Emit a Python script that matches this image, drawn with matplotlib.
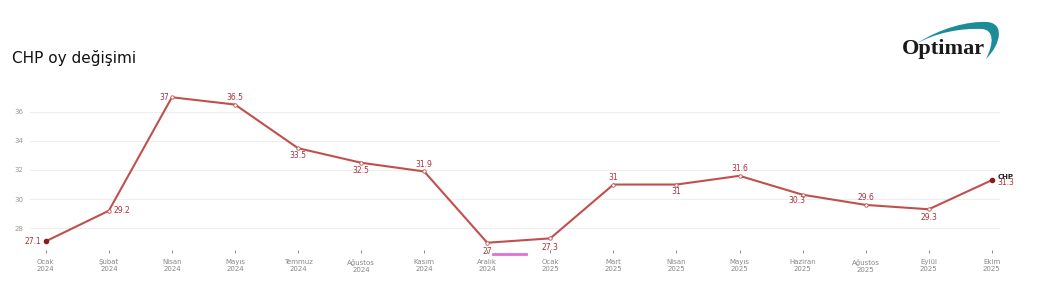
import numpy as np
import matplotlib.pyplot as plt
from matplotlib.path import Path
from matplotlib.patches import PathPatch

months = ["Ocak\n2024", "Şubat\n2024", "Nisan\n2024", "Mayıs\n2024", "Temmuz\n2024",
          "Ağustos\n2024", "Kasım\n2024", "Aralık\n2024", "Ocak\n2025", "Mart\n2025",
          "Nisan\n2025", "Mayıs\n2025", "Haziran\n2025", "Ağustos\n2025", "Eylül\n2025",
          "Ekim\n2025"]
chp = [27.1, 29.2, 37, 36.5, 33.5, 32.5, 31.9, 27, 27.3, 31, 31, 31.6, 30.3, 29.6, 29.3, 31.3]
yticks = [28, 30, 32, 34, 36]

# label offsets in points (dx, dy, ha, va)
offs = [(-3, 0, "right", "center"), (3, 0, "left", "center"), (-2, 0, "right", "center"),
        (0, 2, "center", "bottom"), (0, -2, "center", "top"), (0, -2, "center", "top"),
        (0, 2, "center", "bottom"), (0, -3, "center", "top"), (0, -3, "center", "top"),
        (0, 2, "center", "bottom"), (0, -2, "center", "top"), (0, 2, "center", "bottom"),
        (-4, -1, "center", "top"), (0, 2, "center", "bottom"), (0, -3, "center", "top"),
        (4, -2, "left", "center")]

line_c = "#c0504d"
lab_c = "#a8323a"

fig = plt.figure(figsize=(10.49, 2.89), dpi=100)
ax = fig.add_axes([30/1049, 1 - 250/289, 970/1049, 160/289])
x = np.arange(len(chp))
ax.plot(x, chp, color=line_c, lw=1.5, zorder=3)
ax.plot(x[1:-1], chp[1:-1], "o", ms=2.5, mfc="white", mec=line_c, mew=0.6, zorder=4)
ax.plot([x[0], x[-1]], [chp[0], chp[-1]], "o", ms=3, color="#8b1a1a", zorder=5)

for i, v in enumerate(chp):
    dx, dy, ha, va = offs[i]
    ax.annotate(f"{v:g}", (i, v), xytext=(dx, dy), textcoords="offset points",
                ha=ha, va=va, fontsize=5.5, color=lab_c, zorder=6)
ax.annotate("CHP", (x[-1], chp[-1]), xytext=(4, 2), textcoords="offset points",
            ha="left", va="center", fontsize=5, fontweight="bold", color="#222222")

ax.set_xlim(-0.25, 15.13)
ax.set_ylim(26.5, 37.5)
ax.set_yticks(yticks)
ax.set_xticks(x)
ax.set_xticklabels(months)
ax.tick_params(axis="y", length=0, pad=5, labelsize=5, labelcolor="#999999")
ax.tick_params(axis="x", length=2.5, width=0.6, color="#777777", pad=4,
               labelsize=5, labelcolor="#888888")
ax.grid(axis="y", color="#eeeeee", lw=0.8)
for s in ax.spines.values():
    s.set_visible(False)

fig.text(12/1049, 1 - 58/289, "CHP oy değişimi", fontsize=11, color="#111111", va="center")

# magenta stroke under Aralık/Ocak
fig.add_artist(plt.Line2D([493/1049, 526/1049], [1 - 254/289, 1 - 254/289],
                          color="#e070d8", lw=2))

# Optimar logo
lax = fig.add_axes([890/1049, 1 - 70/289, 120/1049, 55/289])
lax.set_xlim(0, 120)
lax.set_ylim(55, 0)
lax.axis("off")
verts = [(26, 29), (50, 13), (78, 6), (97, 7), (114, 8), (112, 28), (96, 44),
         (104, 28), (104, 15), (92, 14), (70, 13), (45, 18), (26, 29)]
codes = [Path.MOVETO] + [Path.CURVE4] * 12
lax.add_patch(PathPatch(Path(verts, codes), fc="#1d8c99", ec="none"))
lax.text(12, 39, "Optimar", fontsize=16, fontweight="bold", family="Liberation Serif",
         color="#1a1a1a", va="baseline", ha="left")

fig.savefig("out.png", dpi=100)
